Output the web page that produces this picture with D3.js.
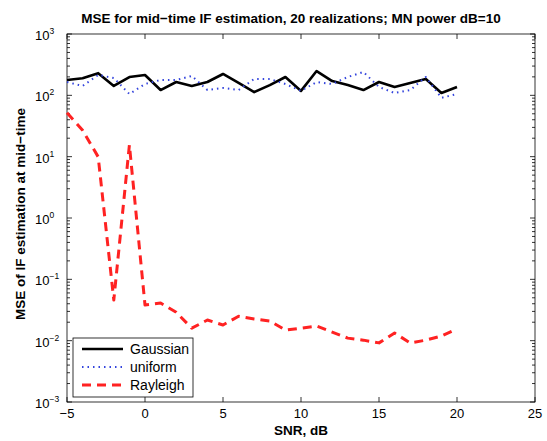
<!DOCTYPE html>
<html>
<head>
<meta charset="utf-8">
<script src="https://cdn.jsdelivr.net/npm/d3@7"></script>
<style>
  body { margin: 0; background: #fff; }
  text { font-family: Arial, "Liberation Sans", Helvetica, sans-serif; }
</style>
</head>
<body>
<div id="plot"></div>
<script>
// SNR values, dB
var snr = [-5,-4,-3,-2,-1,0,1,2,3,4,5,6,7,8,9,10,11,12,13,14,15,16,17,18,19,20];

var gaussian = [178,190,230,142,199,215,122,165,142,165,223,159,113,147,199,118,249,171,147,122,165,137,159,185,109,137];
var uniform  = [165,142,215,192,105,153,178,178,207,122,132,122,185,185,153,118,165,153,199,240,137,109,122,199,91,105];
var rayleigh = [52,27,9.9,0.046,15.5,0.038,0.041,0.029,0.016,0.0217,0.018,0.025,0.0225,0.0209,0.0149,0.016,0.0173,0.0138,0.011,0.0102,0.0092,0.0133,0.0092,0.0102,0.0119,0.0155];

var xTicks = [-5,0,5,10,15,20,25];
var yExps = [-3,-2,-1,0,1,2,3];

var series = [
  { name: "Gaussian", values: gaussian, color: "#000000", width: 2.6, dash: null },
  { name: "uniform",  values: uniform,  color: "#3344dd", width: 2,   dash: "1.5,4" },
  { name: "Rayleigh", values: rayleigh, color: "#ff2222", width: 3,   dash: "9,6" }
];

var W = 547, H = 441;
var margin = { top: 34, right: 12, bottom: 39, left: 67 };
var width = W - margin.left - margin.right,
    height = H - margin.top - margin.bottom;

var svg = d3.select("#plot").append("svg")
    .attr("width", W)
    .attr("height", H)
  .append("g")
    .attr("transform", "translate(" + margin.left + "," + margin.top + ")");

var x = d3.scaleLinear().domain([-5, 25]).range([0, width]);
var y = d3.scaleLog().domain([1e-3, 1e3]).range([height, 0]);

// minor ticks on log axis
var minor = [];
for (var e = -3; e < 3; e++) {
  for (var m = 2; m <= 9; m++) minor.push(m * Math.pow(10, e));
}

var tickG = svg.append("g").attr("stroke", "#000").attr("stroke-width", 0.8);
xTicks.forEach(function(t) {
  tickG.append("line").attr("x1", x(t)).attr("x2", x(t)).attr("y1", height).attr("y2", height - 5);
  tickG.append("line").attr("x1", x(t)).attr("x2", x(t)).attr("y1", 0).attr("y2", 5);
});
yExps.forEach(function(e) {
  var v = Math.pow(10, e);
  tickG.append("line").attr("x1", 0).attr("x2", 5).attr("y1", y(v)).attr("y2", y(v));
  tickG.append("line").attr("x1", width).attr("x2", width - 5).attr("y1", y(v)).attr("y2", y(v));
});
minor.forEach(function(v) {
  tickG.append("line").attr("x1", 0).attr("x2", 3).attr("y1", y(v)).attr("y2", y(v));
  tickG.append("line").attr("x1", width).attr("x2", width - 3).attr("y1", y(v)).attr("y2", y(v));
});

// frame
svg.append("rect")
    .attr("width", width)
    .attr("height", height)
    .attr("fill", "none")
    .attr("stroke", "#000")
    .attr("stroke-width", 0.8);

// x tick labels
svg.selectAll(".xlab")
    .data(xTicks)
  .enter().append("text")
    .attr("class", "xlab")
    .attr("x", function(d) { return x(d); })
    .attr("y", height + 16)
    .attr("text-anchor", "middle")
    .style("font-size", "13px")
    .text(function(d) { return d < 0 ? "\u2212" + Math.abs(d) : d; });

// y tick labels 10^e
var ylab = svg.selectAll(".ylab")
    .data(yExps)
  .enter().append("text")
    .attr("class", "ylab")
    .attr("x", -32)
    .attr("y", function(d) { return y(Math.pow(10, d)) + 6; })
    .style("font-size", "13px");
ylab.append("tspan").text("10");
ylab.append("tspan")
    .attr("dy", -6)
    .style("font-size", "8.5px")
    .text(function(d) { return d < 0 ? "\u2212" + Math.abs(d) : d; });

var line = d3.line()
    .x(function(d, i) { return x(snr[i]); })
    .y(function(d) { return y(d); });

svg.selectAll(".series")
    .data(series)
  .enter().append("path")
    .attr("class", "series")
    .attr("fill", "none")
    .attr("stroke", function(d) { return d.color; })
    .attr("stroke-width", function(d) { return d.width; })
    .attr("stroke-dasharray", function(d) { return d.dash; })
    .attr("stroke-linejoin", "round")
    .attr("d", function(d) { return line(d.values); });

// title and axis labels
svg.append("text")
    .attr("x", width / 2 - 10)
    .attr("y", -11)
    .attr("text-anchor", "middle")
    .style("font-size", "13.5px")
    .style("font-weight", "bold")
    .text("MSE for mid\u2212time IF estimation, 20 realizations; MN power dB=10");

svg.append("text")
    .attr("x", width / 2)
    .attr("y", height + 33)
    .attr("text-anchor", "middle")
    .style("font-size", "13.5px")
    .style("font-weight", "bold")
    .text("SNR, dB");

svg.append("text")
    .attr("transform", "rotate(-90)")
    .attr("x", -(height / 2 - 4))
    .attr("y", -42)
    .attr("text-anchor", "middle")
    .style("font-size", "13.5px")
    .style("font-weight", "bold")
    .text("MSE of IF estimation at mid\u2212time");

// legend
var lg = svg.append("g").attr("transform", "translate(6," + (height - 64) + ")");
lg.append("rect")
    .attr("width", 120)
    .attr("height", 59)
    .attr("fill", "#fff")
    .attr("stroke", "#000")
    .attr("stroke-width", 0.8);
var item = lg.selectAll(".legend")
    .data(series)
  .enter().append("g")
    .attr("class", "legend")
    .attr("transform", function(d, i) { return "translate(0," + (11 + i * 18) + ")"; });
item.append("line")
    .attr("x1", 9).attr("x2", 50)
    .attr("stroke", function(d) { return d.color; })
    .attr("stroke-width", function(d) { return d.width; })
    .attr("stroke-dasharray", function(d) { return d.dash; });
item.append("text")
    .attr("x", 57)
    .attr("dy", "0.35em")
    .style("font-size", "14px")
    .text(function(d) { return d.name; });
</script>
</body>
</html>
